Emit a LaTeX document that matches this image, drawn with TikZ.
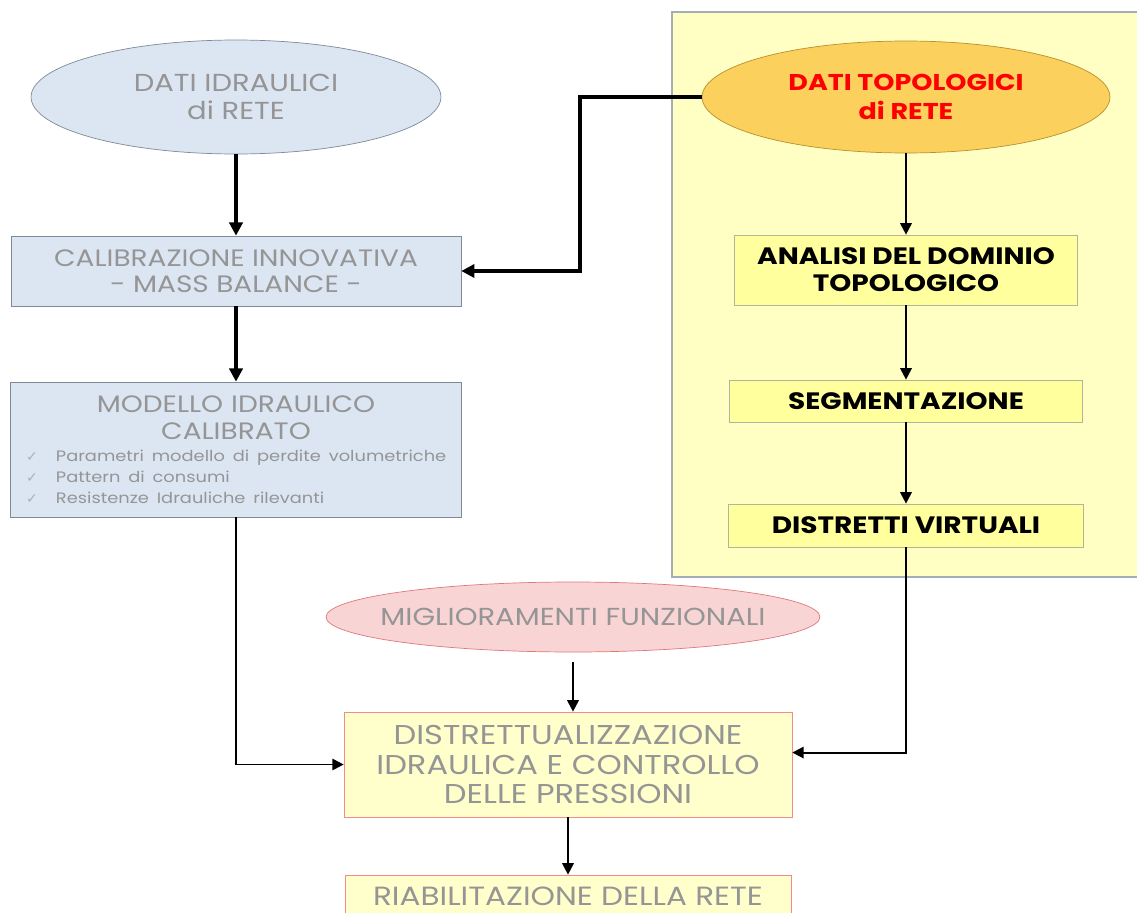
\documentclass[tikz,border=0pt]{standalone}
\usepackage{fontspec}
\setmainfont{Poppins}[FakeStretch=1.18]
\newfontfamily\symfont{DejaVu Sans}
\usetikzlibrary{shapes.geometric,arrows.meta}

\definecolor{grigiotesto}{HTML}{959595}
\definecolor{grigiochk}{HTML}{B0B0B0}
\definecolor{azzurro}{HTML}{DCE6F2}
\definecolor{bordoblu}{HTML}{7E8A98}
\definecolor{giallopanel}{HTML}{FFFFC4}
\definecolor{giallobox}{HTML}{FFFF9E}
\definecolor{bordogiallo}{HTML}{B4B49A}
\definecolor{arancio}{HTML}{FCD05C}
\definecolor{bordoarancio}{HTML}{B89030}
\definecolor{rosa}{HTML}{F9D4D4}
\definecolor{bordorosa}{HTML}{E07878}
\definecolor{giallochiaro}{HTML}{FFFFCC}
\definecolor{salmone}{HTML}{F28C8C}

\newcommand{\chk}{{\color{grigiochk}\symfont\fontsize{8}{10}\selectfont ✓}\hspace{1.2em}}

\begin{document}
\begin{tikzpicture}[x=0.02cm, y=-0.02cm,
		font=\fontsize{13.5}{15}\selectfont,
		bluebox/.style={draw=bordoblu, fill=azzurro, text=grigiotesto, inner sep=0pt, align=center},
		topobox/.style={draw=bordogiallo, fill=giallobox, text=black, font=\fontsize{13.5}{15.3}\selectfont\bfseries, inner sep=0pt, align=center},
		redbox/.style={draw=salmone, fill=giallochiaro, text=grigiotesto, inner sep=0pt, align=center},
		freccia/.style={line width=2.1pt, -{Triangle[length=7.5pt,width=7.5pt]}},
		frecciasottile/.style={line width=1.1pt, -{Triangle[length=6.5pt,width=6.5pt]}}]
	\useasboundingbox (0,0) rectangle (1137,913);

	% pannello dati topologici
	\fill[giallopanel] (672,12) rectangle (1137,577);
	\draw[bordoblu!70, line width=0.6pt] (1137,12) -- (672,12) -- (672,577) -- (1137,577);

	% colonna idraulica
	\node[bluebox, ellipse, font=\fontsize{14}{16}\selectfont, minimum width=8.2cm, minimum height=2.28cm] (idraulici) at (236,97) {DATI IDRAULICI\\di RETE};
	\node[bluebox, minimum width=9cm, minimum height=1.4cm] (calibrazione) at (236,271) {CALIBRAZIONE INNOVATIVA\\- MASS BALANCE -};
	\node[bluebox, minimum width=9.02cm, minimum height=2.7cm, text width=8.8cm, align=left] (modello) at (236,449.5) {%
		{\centering\fontsize{13.5}{15.3}\selectfont MODELLO IDRAULICO\\CALIBRATO\par}
		\vspace{0.5pt}
		{\fontsize{8.6}{12}\selectfont\raggedright
		\hspace*{0.2cm}\chk Parametri modello di perdite volumetriche\\
		\hspace*{0.2cm}\chk Pattern di consumi\\
		\hspace*{0.2cm}\chk Resistenze Idrauliche rilevanti\par}};

	% colonna topologica
	\node[ellipse, draw=bordoarancio, fill=arancio, text=red, font=\fontsize{13}{16}\selectfont\bfseries, inner sep=0pt, align=center,
		minimum width=8.16cm, minimum height=2.24cm] (topologici) at (906,97) {DATI TOPOLOGICI\\di RETE};
	\node[topobox, minimum width=6.86cm, minimum height=1.4cm] (analisi) at (906,270) {ANALISI DEL DOMINIO\\TOPOLOGICO};
	\node[topobox, minimum width=7.06cm, minimum height=0.84cm] (segmentazione) at (906,401) {SEGMENTAZIONE};
	\node[topobox, minimum width=7.1cm, minimum height=0.86cm] (distretti) at (906,525.5) {DISTRETTI VIRTUALI};

	% parte bassa
	\node[ellipse, draw=bordorosa, fill=rosa, text=grigiotesto, inner sep=0pt, font=\fontsize{14}{16}\selectfont,
		minimum width=9.88cm, minimum height=1.4cm] (miglioramenti) at (573,617) {\makebox[0pt]{MIGLIORAMENTI FUNZIONALI}};
	\node[redbox, font=\fontsize{15.5}{17}\selectfont, minimum width=8.96cm, minimum height=2.1cm] (distrettualizzazione) at (568,764.5) {DISTRETTUALIZZAZIONE\\IDRAULICA E CONTROLLO\\DELLE PRESSIONI};
	\node[redbox, font=\fontsize{15}{17}\selectfont, minimum width=8.92cm, minimum height=0.84cm] (riabilitazione) at (568,896) {RIABILITAZIONE DELLA RETE};

	% frecce
	\draw[freccia] (idraulici) -- (calibrazione);
	\draw[freccia] (calibrazione) -- (modello);
	\draw[freccia] (topologici.west) -- ++(-122,0) |- (calibrazione.east);
	\draw[frecciasottile] (topologici) -- (analisi);
	\draw[frecciasottile] (analisi) -- (segmentazione);
	\draw[frecciasottile] (segmentazione) -- (distretti);
	\draw[frecciasottile] (distretti.south) |- ([yshift=6.8pt]distrettualizzazione.east);
	\draw[frecciasottile] (modello.south) |- (distrettualizzazione.west);
	\draw[frecciasottile] (miglioramenti.south) ++(0,10) -- (miglioramenti.south |- distrettualizzazione.north);
	\draw[frecciasottile] (distrettualizzazione) -- (riabilitazione);
\end{tikzpicture}
\end{document}
